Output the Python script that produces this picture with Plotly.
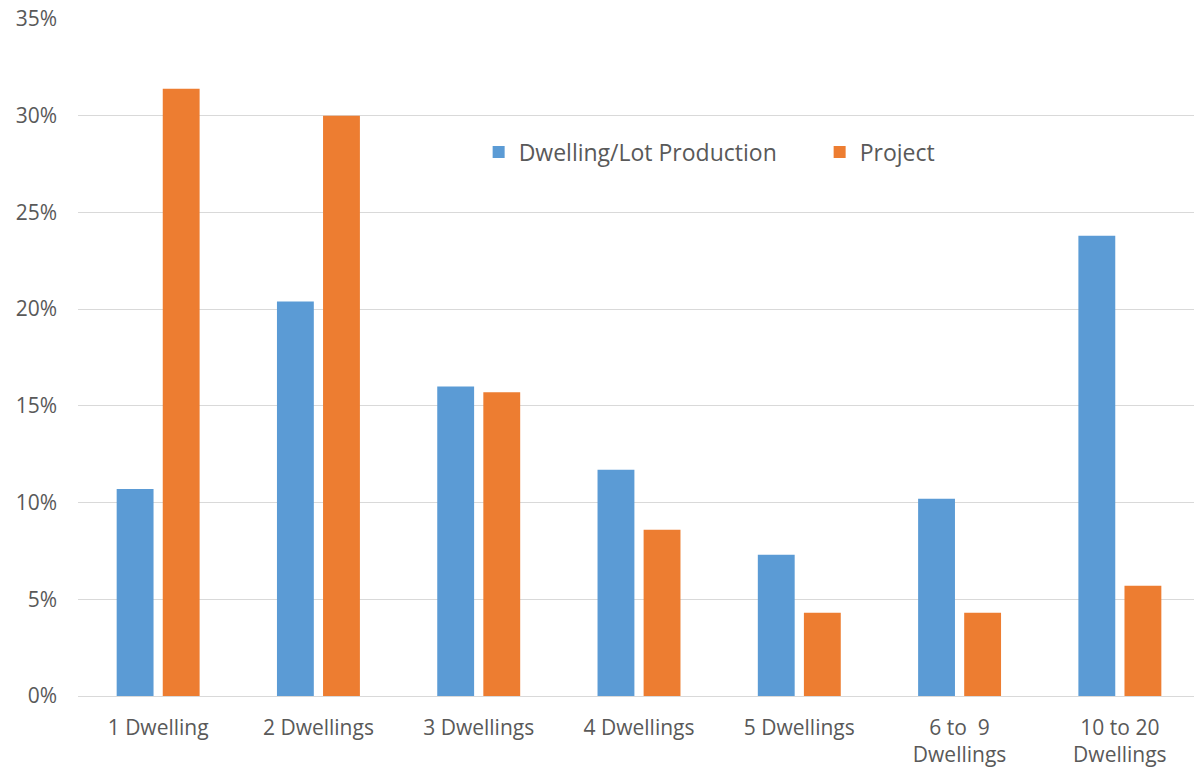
import plotly.graph_objects as go

categories = ["1 Dwelling", "2 Dwellings", "3 Dwellings", "4 Dwellings",
              "5 Dwellings", "6 to  9<br>Dwellings", "10 to 20<br>Dwellings"]
dwelling_lot = [10.7, 20.4, 16.0, 11.7, 7.3, 10.2, 23.8]
project = [31.4, 30.0, 15.7, 8.6, 4.3, 4.3, 5.7]
y_ticks = [0, 5, 10, 15, 20, 25, 30, 35]

FONT = "Open Sans, Segoe UI, sans-serif"
GREY = "#595959"

fig = go.Figure()
fig.add_trace(go.Bar(x=list(range(len(categories))), y=dwelling_lot,
                     name="Dwelling/Lot Production", marker_color="#5B9BD5",
                     marker_line_width=0))
fig.add_trace(go.Bar(x=list(range(len(categories))), y=project,
                     name="Project", marker_color="#ED7D31",
                     marker_line_width=0))

fig.update_layout(
    width=1194, height=771,
    margin=dict(l=78, r=0, t=19, b=75),
    paper_bgcolor="white", plot_bgcolor="white",
    barmode="group", bargap=0.425, bargroupgap=0.2,
    font=dict(family=FONT, size=21, color=GREY),
    showlegend=True,
    legend=dict(orientation="h", x=0.359, y=0.8035, xanchor="left", yanchor="middle",
                font=dict(family=FONT, size=23, color=GREY),
                bgcolor="rgba(0,0,0,0)", itemwidth=30, tracegroupgap=0,
                entrywidth=296),
    xaxis=dict(range=[-0.5, 6.4625], tickvals=list(range(len(categories))),
               ticktext=categories, showgrid=False, zeroline=False,
               showline=False, ticks="", ticklabelstandoff=17,
               tickfont=dict(size=21, color=GREY)),
    yaxis=dict(range=[0, 35], tickvals=y_ticks,
               ticktext=[f"{v}%" for v in y_ticks],
               showgrid=True, gridcolor="#D9D9D9", gridwidth=1,
               zeroline=True, zerolinecolor="#D9D9D9", zerolinewidth=1,
               showline=False, ticks="", ticklabelstandoff=20,
               tickfont=dict(size=21, color=GREY)),
)

fig.write_html("out.html")
